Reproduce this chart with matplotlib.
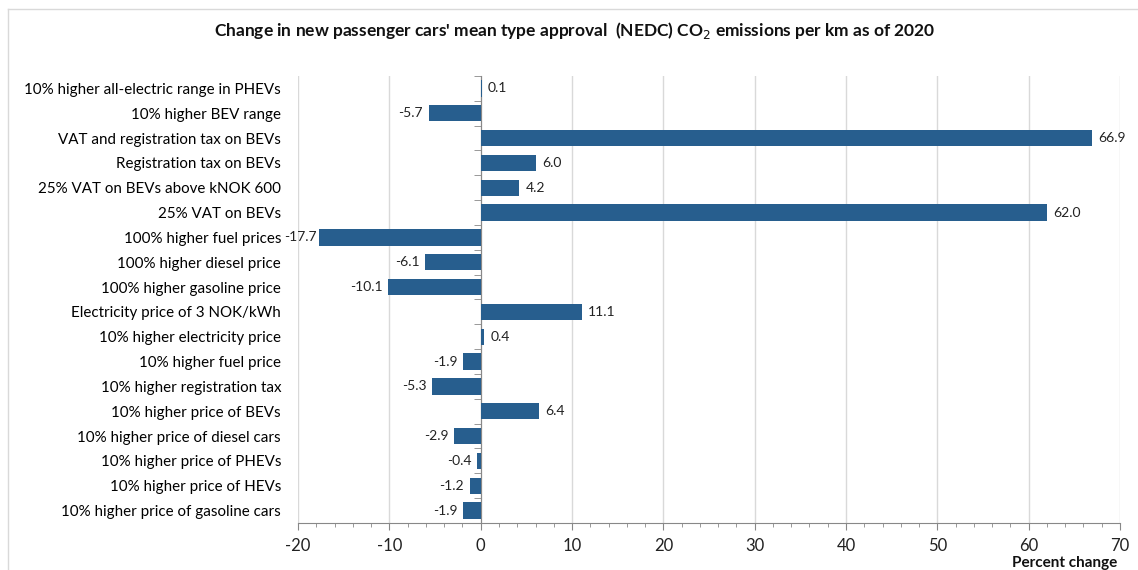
import matplotlib
matplotlib.use("Agg")
import matplotlib.pyplot as plt
from matplotlib.ticker import MultipleLocator, FixedLocator
from matplotlib.transforms import ScaledTranslation
import numpy as np

categories = [
    "10% higher all-electric range in PHEVs",
    "10% higher BEV range",
    "VAT and registration tax on BEVs",
    "Registration tax on BEVs",
    "25% VAT on BEVs above kNOK 600",
    "25% VAT on BEVs",
    "100% higher fuel prices",
    "100% higher diesel price",
    "100% higher gasoline price",
    "Electricity price of 3 NOK/kWh",
    "10% higher electricity price",
    "10% higher fuel price",
    "10% higher registration tax",
    "10% higher price of BEVs",
    "10% higher price of diesel cars",
    "10% higher price of PHEVs",
    "10% higher price of HEVs",
    "10% higher price of gasoline cars",
]
values = [0.1, -5.7, 66.9, 6.0, 4.2, 62.0, -17.7, -6.1, -10.1, 11.1,
          0.4, -1.9, -5.3, 6.4, -2.9, -0.4, -1.2, -1.9]
xticks = [-20, -10, 0, 10, 20, 30, 40, 50, 60, 70]

plt.rcParams['font.family'] = ['Lato', 'DejaVu Sans']

fig = plt.figure(figsize=(11.38, 5.70), dpi=100)
ax = fig.add_axes([0.2619, 0.0825, 0.9842 - 0.2619, 0.8667 - 0.0825])

n = len(categories)
y = np.arange(n)
bar_color = '#275E8E'
ax.barh(y, values, height=0.66, color=bar_color, zorder=3)

ax.set_ylim(n - 0.5, -0.5)
ax.set_xlim(xticks[0], xticks[-1])
ax.xaxis.set_major_locator(FixedLocator(xticks))
ax.xaxis.set_minor_locator(MultipleLocator(2))
ax.set_xticklabels([str(t) for t in xticks], color='#222222')

ax.set_yticks(y)
ax.set_yticklabels(categories, color='#222222')
ax.yaxis.set_minor_locator(FixedLocator(np.arange(-0.5, n, 1.0)))
ax.tick_params(axis='y', which='major', length=0, pad=0, labelsize=10.9)
ax.tick_params(axis='y', which='minor', length=5, color='#888888', direction='out')
ax.tick_params(axis='x', which='major', length=5, color='#888888', pad=6, labelsize=12)
ax.tick_params(axis='x', which='minor', length=3, color='#888888')

ax.spines['left'].set_position(('data', 0))
ax.spines['left'].set_color('#888888')
ax.spines['bottom'].set_color('#888888')
ax.spines['top'].set_visible(False)
ax.spines['right'].set_visible(False)

ax.grid(axis='x', which='major', color='#d9d9d9', linewidth=1, zorder=0)
ax.set_axisbelow(True)

vmin = min(values)
for yi, v in zip(y, values):
    if v >= 0:
        ax.annotate(f"{v:.1f}", xy=(v, yi), xytext=(4.5, 0), textcoords='offset points',
                    ha='left', va='center', fontsize=10, color='#222222', zorder=4)
    else:
        off = -2 if v == vmin else -4
        ax.annotate(f"{v:.1f}", xy=(v, yi), xytext=(off, 0), textcoords='offset points',
                    ha='right', va='center', fontsize=10, color='#222222', zorder=4)

fig.text(0.505, 0.947, "Change in new passenger cars' mean type approval  (NEDC) CO$_2$ emissions per km as of 2020",
         ha='center', va='center', fontsize=12.5, fontweight='bold', color='#111111')
fig.text(0.982, 0.013, "Percent change", ha='right', va='center', fontsize=11,
         fontweight='bold', color='#111111')

fig.add_artist(plt.Line2D([0.007, 1.0], [0.984, 0.984], color='#d9d9d9', lw=1, transform=fig.transFigure))
fig.add_artist(plt.Line2D([0.007, 0.007], [0.0, 0.984], color='#d9d9d9', lw=1, transform=fig.transFigure))

fig.canvas.draw()
offset = -(ax.transData.transform((0, 0))[0] - ax.transAxes.transform((0, 0))[0]) - 17
for lab in ax.get_yticklabels():
    lab.set_transform(lab.get_transform() + ScaledTranslation(offset / 100, 0, fig.dpi_scale_trans))

fig.savefig("out.png", dpi=100)
